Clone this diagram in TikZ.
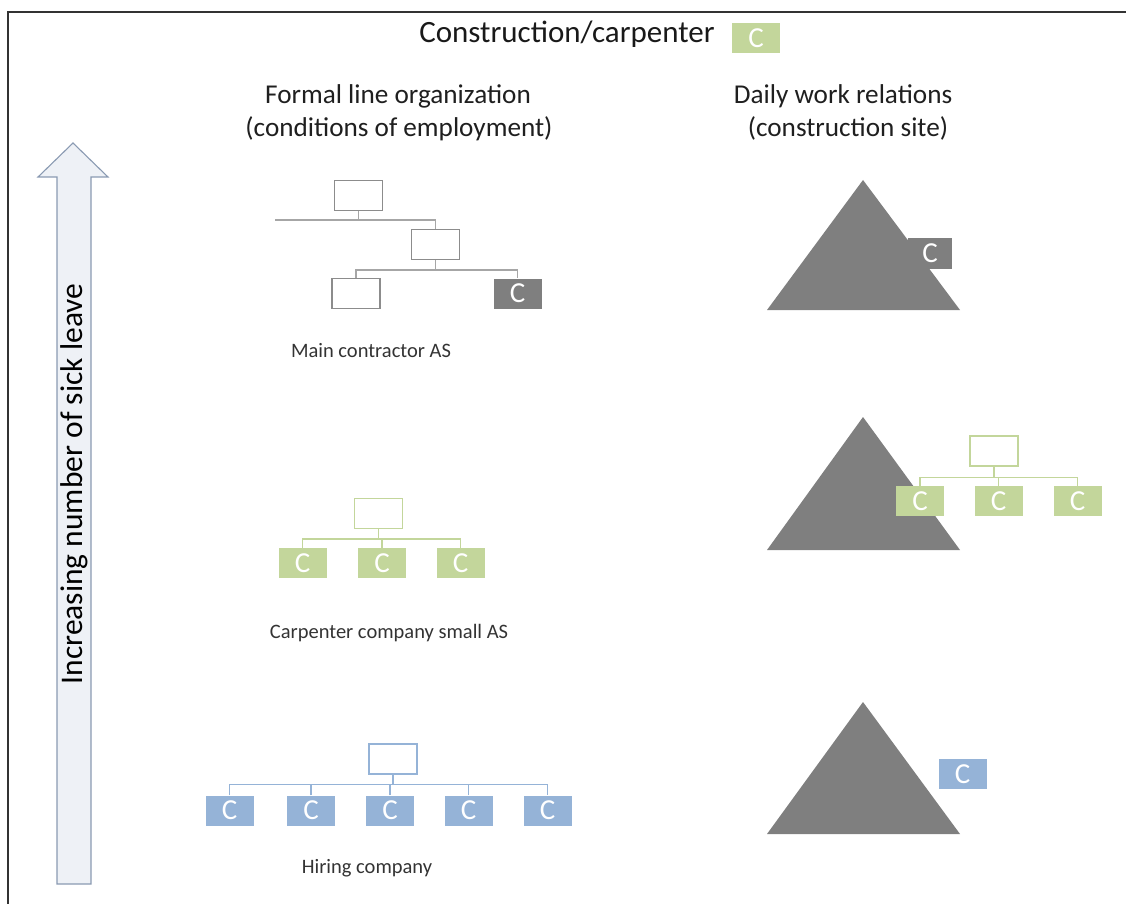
\documentclass[tikz,border=0pt]{standalone}
\usepackage{fontspec}
\setmainfont{Carlito}
\usetikzlibrary{calc}
\definecolor{tri}{HTML}{7F7F7F}
\definecolor{grn}{HTML}{C3D69B}
\definecolor{blu}{HTML}{95B3D7}
\definecolor{lin}{HTML}{A6A6A6}
\definecolor{arrfill}{HTML}{EEF1F6}
\definecolor{arrline}{HTML}{8A9AB2}
\tikzset{
  box/.style={draw=#1, line width=1.2pt, minimum width=48pt, minimum height=30pt, inner sep=0pt, fill=white},
  cbox/.style={fill=#1, draw=none, minimum width=48pt, minimum height=30pt, inner sep=0pt, text=white, font=\fontsize{29}{29}\selectfont},
  conn/.style={draw=#1, line width=1.3pt},
  lbl/.style={font=\fontsize{20.5}{24}\selectfont, text=black!80, anchor=base},
  hdr/.style={font=\fontsize{27.2}{32}\selectfont, text=black!88, anchor=base},
}
\begin{document}
\begin{tikzpicture}[x=1pt,y=-1pt]
\useasboundingbox (0,0) rectangle (1126,904);
% frame
\draw[line width=1.3pt, black!80] (1126,12) -- (8,12) -- (8,904);

% title
\node[font=\fontsize{31}{36}\selectfont, text=black!90, anchor=base] (title) at (567,43) {Construction/carpenter};
\node[cbox=grn] (titleC) at (756,38) {C};

% headers
\node[hdr] (h1a) at (398,104) {Formal line organization};
\node[hdr] (h1b) at (399,137) {(conditions of employment)};
\node[hdr] (h2a) at (843,104) {Daily work relations};
\node[hdr] (h2b) at (848,137) {(construction site)};

% vertical arrow
\draw[fill=arrfill, draw=arrline, line width=1.1pt] (57,884) -- (57,177) -- (38,177) -- (73,143) -- (108,177) -- (91,177) -- (91,884) -- cycle;
\node[rotate=90, font=\fontsize{31.5}{36}\selectfont, text=black] (arrtext) at (74,484) {Increasing number of sick leave};

% ---- Main contractor AS ----
\node[box=tri!90] (mA) at (358.5,195.5) {};
\node[box=tri!90] (mB) at (435.5,244.5) {};
\node[box=tri!90] (mC1) at (356,293.5) {};
\node[cbox=tri] (mC2) at (517.5,293.5) {C};
\coordinate (mL) at (275,220);
\draw[conn=lin] (mL) -| (mB.north);
\draw[conn=lin] (mA.south) -- (mA.south |- mL);
\draw[conn=lin] (mB.south) -- ++(0,10);
\draw[conn=lin] (mC1.north) |- ($(mB.south)+(0,10)$) -| (mC2.north);
\node[lbl] (mlbl) at (371,357) {Main contractor AS};

% ---- Carpenter company small AS ----
\node[box=grn] (cA) at (378.5,513.5) {};
\node[cbox=grn] (c1) at (302.5,563) {C};
\node[cbox=grn] (c2) at (382,563) {C};
\node[cbox=grn] (c3) at (460.5,563) {C};
\draw[conn=grn] (cA.south) -- ++(0,10);
\draw[conn=grn] (c1.north) |- ($(cA.south)+(0,10)$) -| (c3.north);
\draw[conn=grn] (c2.north) -- ++(0,-9);
\node[lbl] (clbl) at (389,638) {Carpenter company small AS};

% ---- Hiring company ----
\node[box=blu] (hA) at (393,759) {};
\node[cbox=blu] (h1) at (229.5,810.5) {C};
\node[cbox=blu] (h2) at (311,810.5) {C};
\node[cbox=blu] (h3) at (390,810.5) {C};
\node[cbox=blu] (h4) at (468.5,810.5) {C};
\node[cbox=blu] (h5) at (547.5,810.5) {C};
\draw[conn=blu] (hA.south) -- ++(0,10);
\draw[conn=blu] (h1.north) |- ($(hA.south)+(0,10)$) -| (h5.north);
\draw[conn=blu] (h2.north) -- ++(0,-11);
\draw[conn=blu] (h3.north) -- ++(0,-11);
\draw[conn=blu] (h4.north) -- ++(0,-11);
\node[lbl] (hlbl) at (367,873) {Hiring company};

% ---- Right column ----
\fill[tri] (767,310) -- (863,180) -- (960,310) -- cycle;
\node[cbox=tri, minimum width=44pt, minimum height=31pt] (r1C) at (930,253.5) {C};

\fill[tri] (767,550) -- (863,417) -- (960,550) -- cycle;
\node[box=grn] (rA) at (994,451) {};
\node[cbox=grn] (r1) at (920,501) {C};
\node[cbox=grn] (r2) at (998.5,501) {C};
\node[cbox=grn] (r3) at (1077.5,501) {C};
\draw[conn=grn] (rA.south) -- ++(0,11);
\draw[conn=grn] (r1.north) |- ($(rA.south)+(0,11)$) -| (r3.north);
\draw[conn=grn] (r2.north) -- ++(0,-9);

\fill[tri] (767,834) -- (863,702) -- (960,834) -- cycle;
\node[cbox=blu] (r3C) at (962.5,774) {C};
\end{tikzpicture}
\end{document}
